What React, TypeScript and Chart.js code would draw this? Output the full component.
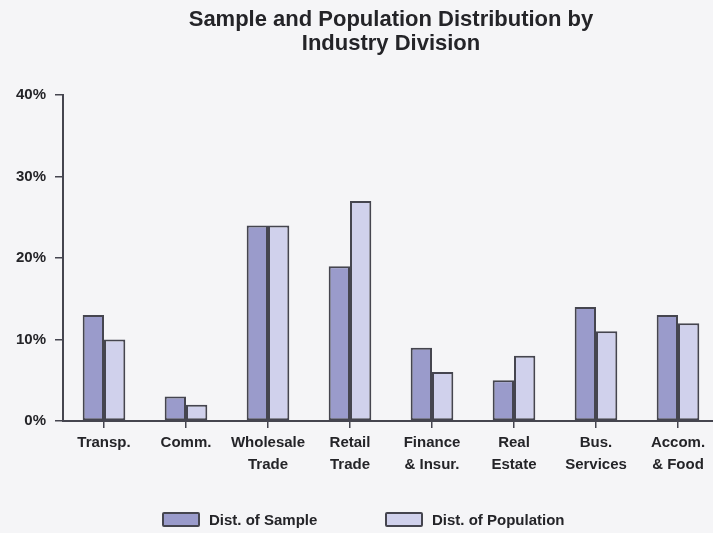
import React, { useEffect, useRef } from "react";
import { Chart, registerables } from "chart.js";

Chart.register(...registerables);

const categories: string[][] = [
  ["Transp."],
  ["Comm."],
  ["Wholesale", "Trade"],
  ["Retail", "Trade"],
  ["Finance", "& Insur."],
  ["Real", "Estate"],
  ["Bus.", "Services"],
  ["Accom.", "& Food"],
];
const sampleDist: number[] = [13, 3, 24, 19, 9, 5, 14, 13];
const populationDist: number[] = [10, 2, 24, 27, 6, 8, 11, 12];
const seriesNames: string[] = ["Dist. of Sample", "Dist. of Population"];
const titleLines: string[] = ["Sample and Population Distribution by", "Industry Division"];

const FONT = "'Liberation Sans', Arial, Helvetica, sans-serif";
const INK = "#242428";
const EDGE = "#45454f";
const SAMPLE_FILL = "#9a9bcb";
const POP_FILL = "#d0d1ec";
const PAPER = "#f5f5f7";

export default function App() {
  const canvasRef = useRef<HTMLCanvasElement | null>(null);

  useEffect(() => {
    if (!canvasRef.current) return;
    const chart = new Chart(canvasRef.current, {
      type: "bar",
      data: {
        labels: categories,
        datasets: [
          {
            label: seriesNames[0],
            data: sampleDist,
            backgroundColor: SAMPLE_FILL,
            borderColor: EDGE,
            borderWidth: 2,
            borderSkipped: false,
          },
          {
            label: seriesNames[1],
            data: populationDist,
            backgroundColor: POP_FILL,
            borderColor: EDGE,
            borderWidth: 2,
            borderSkipped: false,
          },
        ],
      },
      options: {
        animation: false,
        responsive: false,
        maintainAspectRatio: false,
        layout: { padding: 0 },
        datasets: {
          bar: { categoryPercentage: 0.52, barPercentage: 1 },
        },
        plugins: {
          legend: { display: false },
          tooltip: { enabled: false },
          title: {
            display: true,
            text: titleLines,
            fullSize: false,
            color: INK,
            font: { family: FONT, size: 22, weight: "bold", lineHeight: 1.1 },
            padding: { top: 8, bottom: 38.6 },
          },
        },
        scales: {
          x: {
            offset: true,
            grid: {
              display: true,
              offset: false,
              drawOnChartArea: false,
              drawTicks: true,
              tickLength: 7,
              color: EDGE,
              lineWidth: 1.5,
            },
            border: { display: true, color: EDGE, width: 2 },
            ticks: {
              color: INK,
              padding: 4,
              maxRotation: 0,
              autoSkip: false,
              font: { family: FONT, size: 15, weight: "bold", lineHeight: 1.45 },
            },
            afterFit: (scale: any) => {
              scale.height = 112;
            },
          },
          y: {
            min: 0,
            max: 40,
            grid: {
              display: true,
              drawOnChartArea: false,
              drawTicks: true,
              tickLength: 8,
              color: EDGE,
              lineWidth: 1.5,
            },
            border: { display: true, color: EDGE, width: 2 },
            ticks: {
              stepSize: 10,
              color: INK,
              padding: 9,
              font: { family: FONT, size: 15, weight: "bold" },
              callback: (v: any) => v + "%",
            },
            afterFit: (scale: any) => {
              scale.width = 63;
            },
          },
        },
      },
    });
    return () => chart.destroy();
  }, []);

  const legendText: React.CSSProperties = {
    position: "absolute",
    top: 510,
    fontFamily: FONT,
    fontWeight: "bold",
    fontSize: 15,
    lineHeight: "19px",
    color: INK,
    whiteSpace: "nowrap",
  };
  const legendBox: React.CSSProperties = {
    position: "absolute",
    top: 512,
    width: 38,
    height: 15,
    boxSizing: "border-box",
    border: `2px solid ${EDGE}`,
    borderRadius: 2,
  };

  return (
    <div
      style={{
        position: "fixed",
        left: 0,
        top: 0,
        width: 713,
        height: 533,
        overflow: "hidden",
        background: PAPER,
      }}
    >
      <canvas ref={canvasRef} width={719} height={533} style={{ display: "block" }} />
      <div style={{ ...legendBox, left: 162, background: SAMPLE_FILL }} />
      <div style={{ ...legendText, left: 209 }}>{seriesNames[0]}</div>
      <div style={{ ...legendBox, left: 385, background: POP_FILL }} />
      <div style={{ ...legendText, left: 432 }}>{seriesNames[1]}</div>
    </div>
  );
}
